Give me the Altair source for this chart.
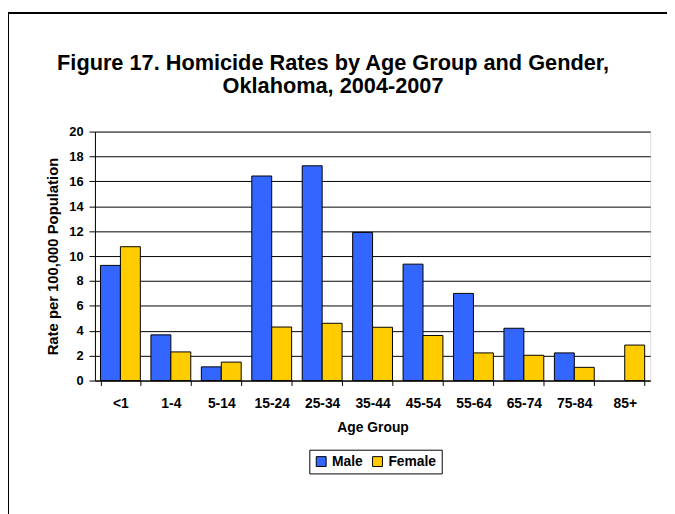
import altair as alt
import pandas as pd

ages = ["<1", "1-4", "5-14", "15-24", "25-34", "35-44", "45-54", "55-64", "65-74", "75-84", "85+"]
male = [9.25, 3.67, 1.1, 16.43, 17.25, 11.9, 9.35, 7.0, 4.2, 2.22, None]
female = [10.75, 2.3, 1.48, 4.3, 4.6, 4.28, 3.62, 2.22, 2.03, 1.06, 2.85]
genders = ["Male", "Female"]
colors = ["#3366FF", "#FFCC00"]

rows = []
for a, m, f in zip(ages, male, female):
    if m is not None:
        rows.append({"Age": a, "Gender": "Male", "Rate": m})
    if f is not None:
        rows.append({"Age": a, "Gender": "Female", "Rate": f})
df = pd.DataFrame(rows)

FONT = "Liberation Sans"
W, H = 562, 252

bars = alt.Chart(df).mark_bar(stroke="black", strokeWidth=1).encode(
    x=alt.X("Age:N", sort=ages, title="Age Group",
            scale=alt.Scale(paddingInner=0.21, paddingOuter=0.11),
            axis=alt.Axis(labelAngle=0, tickBand="extent", tickSize=5, tickColor="black",
                          domainColor="black", labelFont=FONT, labelFontWeight="bold",
                          labelFontSize=14, labelColor="black", labelPadding=11,
                          titleFont=FONT, titleFontWeight="bold", titleFontSize=14,
                          titleColor="black", titlePadding=11)),
    xOffset=alt.XOffset("Gender:N", sort=genders),
    y=alt.Y("Rate:Q", title="Rate per 100,000 Population",
            scale=alt.Scale(domain=[0, 20]),
            axis=alt.Axis(values=list(range(0, 21, 2)), tickSize=6, tickColor="black",
                          domainColor="black", gridColor="black", gridOpacity=1,
                          labelFont=FONT, labelFontWeight="bold", labelFontSize=13,
                          labelColor="black", labelPadding=6,
                          titleFont=FONT, titleFontWeight="bold", titleFontSize=15,
                          titleColor="black", titlePadding=8)),
    color=alt.Color("Gender:N", sort=genders,
                    scale=alt.Scale(domain=genders, range=colors),
                    legend=alt.Legend(title=None, orient="none", direction="horizontal",
                                      legendX=217, legendY=322, symbolType="square",
                                      symbolSize=100, symbolStrokeColor="black",
                                      symbolStrokeWidth=1, labelFont=FONT,
                                      labelFontWeight="bold", labelFontSize=14,
                                      labelColor="black", strokeColor="black",
                                      padding=5, columnPadding=7, symbolOffset=0)),
)

frame_top = alt.Chart(df).mark_rule(color="black", strokeWidth=2).encode(
    x=alt.value(-88), x2=alt.value(W + 100), y=alt.value(-120)
)
frame_left = alt.Chart(df).mark_rule(color="black", strokeWidth=2).encode(
    x=alt.value(-88), y=alt.value(-120), y2=alt.value(H + 200)
)

chart = alt.layer(bars, frame_top, frame_left).properties(
    width=W, height=H,
    title=alt.TitleParams(
        ["Figure 17. Homicide Rates by Age Group and Gender,", "Oklahoma, 2004-2007"],
        font=FONT, fontSize=22, fontWeight="bold", color="black",
        anchor="middle", frame="group", dx=-40, offset=-87, lineHeight=23),
    autosize=alt.AutoSizeParams(type="none"),
    padding={"left": 88, "top": 122, "right": 17, "bottom": 132},
).configure_view(stroke="black", strokeWidth=1).configure(background="white")

chart.save("out.html", embed_options={"renderer": "svg", "actions": False})
